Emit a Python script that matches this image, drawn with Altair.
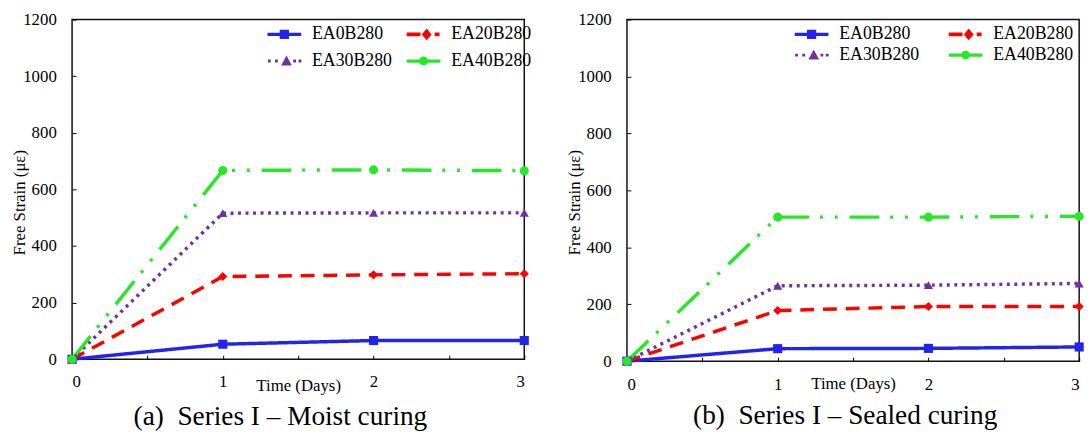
import altair as alt
import pandas as pd

# ---------------- data ----------------
days = [0, 1, 2, 3]
series = ["EA0B280", "EA20B280", "EA30B280", "EA40B280"]

moist_EA0B280 = [0, 53, 66, 66]
moist_EA20B280 = [0, 292, 298, 302]
moist_EA30B280 = [0, 516, 517, 517]
moist_EA40B280 = [0, 667, 669, 666]

sealed_EA0B280 = [0, 44, 45, 50]
sealed_EA20B280 = [0, 178, 192, 192]
sealed_EA30B280 = [0, 265, 267, 273]
sealed_EA40B280 = [0, 506, 506, 509]

y_ticks = [0, 200, 400, 600, 800, 1000, 1200]
x_ticks = [0, 0.5, 1, 1.5, 2, 2.5, 3]

caption_a = "(a)\u00a0\u00a0Series I \u2013 Moist curing"
caption_b = "(b)\u00a0\u00a0Series I \u2013 Sealed curing"
x_title = "Time (Days)"
y_title = "Free Strain (\u03bc\u03b5)"

# ---------------- styles ----------------
colors = ["#2323f0", "#ff0000", "#7030a0", "#26e826"]
dashes = [[1, 0], [14, 9], [3, 4.6], [30, 11, 3, 12, 3, 12]]
shapes = ["square", "diamond", "triangle-up", "circle"]
# legend samples: line piece + marker, drawn as filled outlines (unit = half symbol size)
legend_paths = [
    "M-1.9,-0.18H1.9V0.18H-1.9Z M-0.52,-0.52H0.52V0.52H-0.52Z",
    "M-1.9,-0.2H-0.35V0.2H-1.9Z M1.25,-0.2H1.8V0.2H1.25Z M0.35,-0.65L0.9,0L0.35,0.65L-0.2,0Z",
    "M-1.85,-0.16h0.32v0.32h-0.32Z M-1.05,-0.16h0.32v0.32h-0.32Z M1.0,-0.16h0.32v0.32h-0.32Z "
    "M1.6,-0.16h0.32v0.32h-0.32Z M0.24,-0.62L0.84,0.5H-0.36Z",
    "M-1.9,-0.18H1.9V0.18H-1.9Z M0.5,0A0.5,0.5 0 1,1 -0.5,0A0.5,0.5 0 1,1 0.5,0Z",
]
legend_order = [0, 2, 1, 3]  # legend fills column by column -> rows read EA0, EA20 / EA30, EA40
FONT = "Liberation Serif"

leg_domain = [series[i] for i in legend_order]
leg_colors = [colors[i] for i in legend_order]
leg_paths = [legend_paths[i] for i in legend_order]


def make_df(vals):
    rows = []
    for s, v in zip(series, vals):
        for d, val in zip(days, v):
            rows.append({"day": d, "strain": val, "series": s})
    return pd.DataFrame(rows)


def panel(vals, caption, height, x_lab_pad, x_title_y, leg_x, leg_col_pad, leg_row_pad, cap_dx):
    df = make_df(vals)
    base = alt.Chart(df)
    x = alt.X(
        "day:Q",
        scale=alt.Scale(domain=[0, 3], nice=False, zero=False),
        axis=alt.Axis(
            values=x_ticks,
            labelExpr="datum.value % 1 === 0 ? format(datum.value, 'd') : ''",
            title=x_title,
            offset=-4,
            tickSize=4,
            labelPadding=x_lab_pad,
            titleY=x_title_y,
            titleBaseline="alphabetic",
            labelOverlap=False,
        ),
    )
    y = alt.Y(
        "strain:Q",
        scale=alt.Scale(domain=[0, 1200], nice=False),
        axis=alt.Axis(
            values=y_ticks,
            format="d",
            title=y_title,
            offset=-4,
            tickSize=4,
            labelPadding=16,
            titleX=-52,
            titleY=185,
            titleBaseline="alphabetic",
            titleAngle=270,
        ),
    )
    line_layers = [
        base.transform_filter(alt.datum.series == s)
        .mark_line(color=col, strokeDash=dsh, strokeWidth=3.5)
        .encode(x=x, y=y)
        for s, col, dsh in zip(series, colors, dashes)
    ]
    point_layers = [
        base.transform_filter(alt.datum.series == s)
        .mark_point(filled=True, size=85, opacity=1, shape=shp, color=col)
        .encode(x=x, y=y)
        for s, shp, col in zip(series, shapes, colors)
    ]
    leg = alt.Legend(
        title=None,
        orient="none",
        legendX=leg_x,
        legendY=6,
        columns=2,
        columnPadding=leg_col_pad,
        rowPadding=leg_row_pad,
        symbolSize=324,
        symbolStrokeWidth=0,
        symbolFillColor="#000",
        symbolOffset=8,
        labelOffset=19,
        labelFont=FONT,
        labelFontSize=18,
        labelColor="#000",
        padding=0,
    )
    legend_layer = (
        base.transform_filter("false")
        .mark_point(filled=True, opacity=1)
        .encode(
            x=x,
            y=y,
            color=alt.Color("series:N", scale=alt.Scale(domain=leg_domain, range=leg_colors), legend=leg),
            shape=alt.Shape("series:N", scale=alt.Scale(domain=leg_domain, range=leg_paths), legend=leg),
        )
    )
    return alt.layer(*line_layers, *point_layers, legend_layer).properties(
        width=458,
        height=height,
        title=alt.TitleParams(
            caption,
            orient="bottom",
            anchor="middle",
            frame="group",
            font=FONT,
            fontSize=27.6,
            fontWeight="normal",
            color="#000",
            dx=cap_dx,
            offset=10,
        ),
    )


left = panel(
    [moist_EA0B280, moist_EA20B280, moist_EA30B280, moist_EA40B280],
    caption_a, 344, 15, 36, 198, 14, 9, -18,
)
right = panel(
    [sealed_EA0B280, sealed_EA20B280, sealed_EA30B280, sealed_EA40B280],
    caption_b, 346, 16, 32, 170, 29, 3, -8,
)

chart = (
    alt.hconcat(left, right, spacing=33)
    .resolve_scale(color="independent", shape="independent")
    .properties(padding={"left": 10, "top": 7, "right": 5, "bottom": 5}, background="white")
    .configure(font=FONT)
    .configure_view(stroke="#111", strokeWidth=1.5)
    .configure_axis(
        labelFont=FONT,
        labelFontSize=17,
        labelColor="#000",
        titleFont=FONT,
        titleFontSize=17,
        titleFontWeight="normal",
        titleColor="#000",
        tickColor="#000",
        tickWidth=1,
        domain=False,
        grid=False,
    )
    .configure_legend(
        labelFont=FONT,
        labelFontSize=18,
        labelColor="#000",
    )
)

chart.save("out.html", embed_options={"renderer": "svg", "actions": False})
